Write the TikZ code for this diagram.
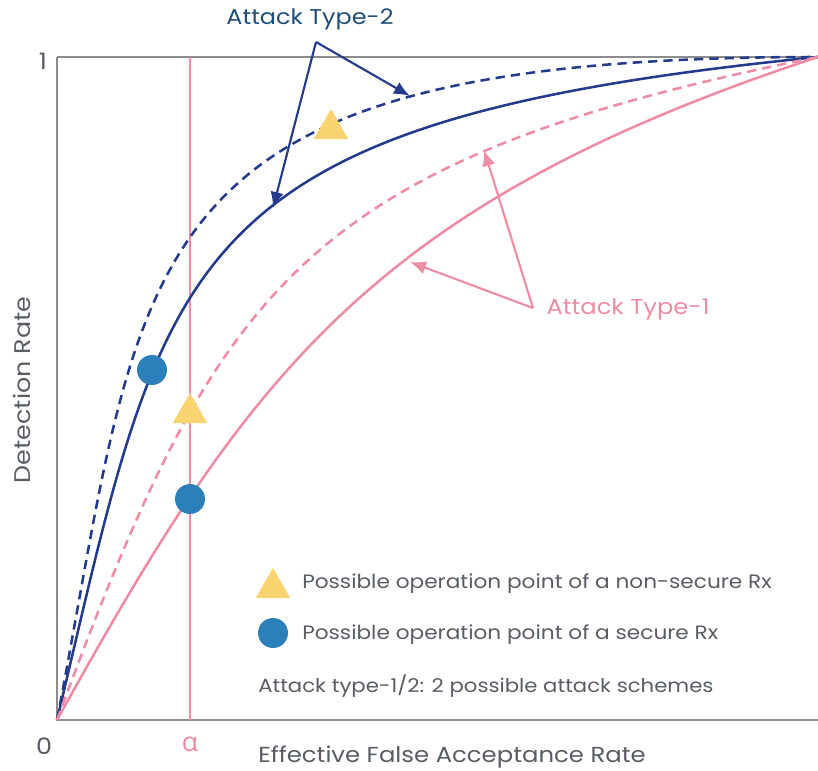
\documentclass[tikz,border=0pt]{standalone}
\usepackage{fontspec}
\setmainfont{Poppins}[FakeStretch=1.12]
\newfontfamily\greekfont{Open Sans}
\usetikzlibrary{shapes.geometric,arrows.meta}
\definecolor{navy}{HTML}{243B8C}
\definecolor{rose}{HTML}{EE8CA3}
\definecolor{sand}{HTML}{FAD471}
\definecolor{dot}{HTML}{2B80BA}
\definecolor{ink}{HTML}{585D64}
\definecolor{deep}{HTML}{1F4D78}
\begin{document}
\begin{tikzpicture}[x=0.75pt,y=-0.75pt,>={Latex[length=12pt,width=10pt]},
  axis/.style={draw=gray!90,line width=1.1pt},
  curve/.style={line width=1.9pt},
  dashy/.style={dash pattern=on 7pt off 4.5pt},
  lbl/.style={text=ink,font=\fontsize{16.3}{19}\selectfont,inner sep=0pt},
  leg/.style={lbl,anchor=west,font=\fontsize{14.5}{17}\selectfont},
  tri/.style={regular polygon,regular polygon sides=3,fill=sand,minimum size=30pt,inner sep=0pt},
  disc/.style={circle,fill=dot,minimum size=22.5pt,inner sep=0pt}]
\useasboundingbox (0,0) rectangle (818,771);

% frame and alpha line
\draw[axis] (57,57) -- (818,57);
\draw[axis] (57,57) -- (57,720) -- (818,720);
\draw[rose,line width=0.8pt] (190,57) -- (190,720);

% curves
\draw[navy,curve,dashy] (57,720) .. controls (147,252) and (118,57) .. (818,57);
\draw[navy,curve] (57,720) .. controls (167,258) and (168,122) .. (818,57);
\draw[rose,curve,dashy] (57,720) .. controls (217,288) and (298,161) .. (818,57);
\draw[rose,curve] (57,720) .. controls (247,378) and (368,205) .. (818,57);

% markers
\node[tri] (t1) at (331,129) {};
\node[tri] (t2) at (190,413) {};
\node[disc] (c1) at (152,370) {};
\node[disc] (c2) at (190,499) {};

% labels
\node[lbl,font=\fontsize{16}{19}\selectfont,text=deep] (type2) at (310,19) {Attack Type-2};
\node[lbl,font=\fontsize{16.2}{19}\selectfont,text=rose] (type1) at (628,309) {Attack Type-1};
\coordinate (p2) at (316,42);
\coordinate (p1) at (533,308);
\coordinate (a2s) at (273,208);
\coordinate (a2d) at (410,96);
\coordinate (a1s) at (410,262);
\coordinate (a1d) at (484,150);
\draw[->,navy,line width=1.6pt] (p2) -- (a2s);
\draw[->,navy,line width=1.6pt] (p2) -- (a2d);
\draw[->,rose,line width=1.6pt] (p1) -- (a1s);
\draw[->,rose,line width=1.6pt] (p1) -- (a1d);

\node[lbl,font=\fontsize{17}{19}\selectfont] (one) at (43,61) {1};
\node[lbl,font=\fontsize{17}{19}\selectfont] (zero) at (44,746) {0};
\node[lbl,text=rose,font=\fontsize{20}{22}\selectfont] (alpha) at (190,744) {\greekfont α};
\node[lbl] (xlab) at (452,757) {Effective False Acceptance Rate};
\node[lbl,rotate=90,font=\fontsize{17}{19}\selectfont] (ylab) at (22,390) {Detection Rate};

% legend
\node[tri] (lt) at (273,588) {};
\node[disc] (lc) at (273,633) {};
\node[leg] (ltx) at (302,584) {Possible operation point of a non-secure Rx};
\node[leg] (lcx) at (302,635) {Possible operation point of a secure Rx};
\node[leg,font=\fontsize{14.2}{17}\selectfont] (note) at (258,686) {Attack type-1/2: 2 possible attack schemes};
\end{tikzpicture}
\end{document}
